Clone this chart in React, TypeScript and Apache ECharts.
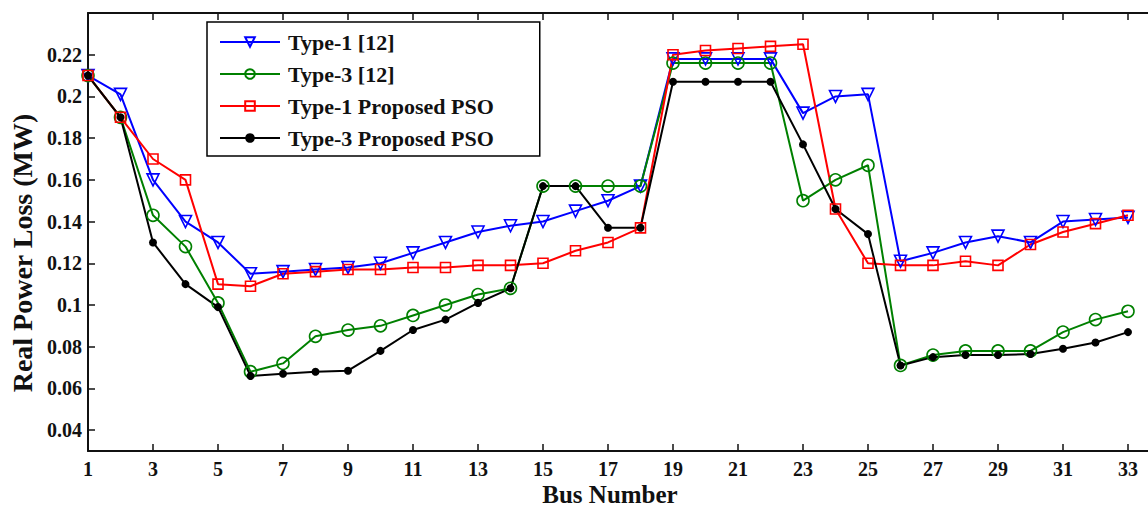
import React, { useEffect, useRef } from "react";
import * as echarts from "echarts";

const buses = [1,2,3,4,5,6,7,8,9,10,11,12,13,14,15,16,17,18,19,20,21,22,23,24,25,26,27,28,29,30,31,32,33];
const busTicks = [1,3,5,7,9,11,13,15,17,19,21,23,25,27,29,31,33];
const yTicks = [0.04,0.06,0.08,0.1,0.12,0.14,0.16,0.18,0.2,0.22];

const type1Ref = [0.21,0.201,0.16,0.14,0.13,0.115,0.116,0.117,0.118,0.12,0.125,0.13,0.135,0.138,0.14,0.145,0.15,0.157,0.218,0.218,0.218,0.218,0.192,0.2,0.201,0.121,0.125,0.13,0.133,0.13,0.14,0.141,0.142];
const type3Ref = [0.21,0.19,0.143,0.128,0.101,0.068,0.072,0.085,0.088,0.09,0.095,0.1,0.105,0.108,0.157,0.157,0.157,0.157,0.216,0.216,0.216,0.216,0.15,0.16,0.167,0.071,0.076,0.078,0.078,0.078,0.087,0.093,0.097];
const type1Pso = [0.21,0.19,0.17,0.16,0.11,0.109,0.115,0.116,0.117,0.117,0.118,0.118,0.119,0.119,0.12,0.126,0.13,0.137,0.22,0.222,0.223,0.224,0.225,0.146,0.12,0.119,0.119,0.121,0.119,0.129,0.135,0.139,0.143];
const type3Pso = [0.21,0.19,0.13,0.11,0.099,0.066,0.067,0.068,0.0685,0.078,0.088,0.093,0.101,0.108,0.157,0.157,0.137,0.137,0.207,0.207,0.207,0.207,0.177,0.146,0.134,0.071,0.075,0.076,0.076,0.0765,0.079,0.082,0.087];

const seriesNames = ["Type-1 [12]", "Type-3 [12]", "Type-1 Proposed PSO", "Type-3 Proposed PSO"];
const xTitle = "Bus Number";
const yTitle = "Real Power Loss (MW)";

const FONT = "'Liberation Serif', 'Times New Roman', serif";

export default function App() {
  const ref = useRef<HTMLDivElement>(null);
  useEffect(() => {
    document.body.style.margin = "0";
    const chart = echarts.init(ref.current!, null, { renderer: "svg" });
    const pairs = (vals: number[]) => buses.map((b, i) => [b, vals[i]]);
    const hollow = (c: string) => ({ color: "rgba(255,255,255,0)", borderColor: c, borderWidth: 1.6 });
    const titleStyle = { fontFamily: FONT, fontWeight: "bold", fill: "#111", align: "center", verticalAlign: "middle" };
    chart.setOption({
      animation: false,
      backgroundColor: "#ffffff",
      grid: { left: 88, right: 0, top: 13, bottom: 56, outerBoundsMode: "none", containLabel: false },
      legend: {
        orient: "vertical",
        left: 207,
        top: 22,
        padding: [9, 46, 7, 12],
        itemGap: 10,
        itemWidth: 60,
        itemHeight: 12,
        borderColor: "#000",
        borderWidth: 1.5,
        backgroundColor: "#fff",
        textStyle: { fontFamily: FONT, fontWeight: "bold", fontSize: 22, color: "#111", padding: [0, 0, 0, 3] },
        data: seriesNames,
      },
      graphic: [
        {
          type: "text",
          x: 22,
          y: 253,
          rotation: Math.PI / 2,
          style: { ...titleStyle, text: yTitle, fontSize: 28 },
        },
        {
          type: "text",
          x: 610,
          y: 494,
          style: { ...titleStyle, text: xTitle, fontSize: 25 },
        },
      ],
      xAxis: [
        {
          type: "value",
          min: 1,
          max: 1 + 1060 / 32.5,
          position: "bottom",
          axisLine: { lineStyle: { color: "#111", width: 2 } },
          axisTick: { inside: true, length: 7, customValues: busTicks, lineStyle: { color: "#111", width: 1.5 } },
          axisLabel: { customValues: busTicks, fontFamily: FONT, fontWeight: "bold", fontSize: 20, color: "#111", margin: 8 },
          splitLine: { show: false },
        },
        {
          type: "value",
          min: 1,
          max: 1 + 1060 / 32.5,
          position: "top",
          axisLine: { lineStyle: { color: "#111", width: 2 } },
          axisTick: { inside: true, length: 7, customValues: busTicks, lineStyle: { color: "#111", width: 1.5 } },
          axisLabel: { show: false },
          splitLine: { show: false },
        },
      ],
      yAxis: {
        type: "value",
        min: 0.03,
        max: 0.24,
        axisLine: { show: true, lineStyle: { color: "#111", width: 2 } },
        axisTick: { show: true, inside: true, length: 7, customValues: yTicks, lineStyle: { color: "#111", width: 1.5 } },
        axisLabel: { customValues: yTicks, fontFamily: FONT, fontWeight: "bold", fontSize: 20, color: "#111", margin: 6 },
        splitLine: { show: false },
      },
      series: [
        {
          name: seriesNames[0], type: "line", data: pairs(type1Ref), color: "#0000ff",
          symbol: "triangle", symbolRotate: 180, symbolSize: 12,
          lineStyle: { color: "#0000ff", width: 2 }, itemStyle: hollow("#0000ff"),
        },
        {
          name: seriesNames[1], type: "line", data: pairs(type3Ref), color: "#008000",
          symbol: "circle", symbolSize: 12,
          lineStyle: { color: "#008000", width: 2 }, itemStyle: hollow("#008000"),
        },
        {
          name: seriesNames[2], type: "line", data: pairs(type1Pso), color: "#ff0000",
          symbol: "rect", symbolSize: 10,
          lineStyle: { color: "#ff0000", width: 2 }, itemStyle: hollow("#ff0000"),
        },
        {
          name: seriesNames[3], type: "line", data: pairs(type3Pso), color: "#000000",
          symbol: "circle", symbolSize: 8,
          lineStyle: { color: "#000000", width: 2 }, itemStyle: { color: "#000000" },
        },
      ],
    });
    return () => chart.dispose();
  }, []);
  return <div ref={ref} style={{ position: "absolute", left: 0, top: 0, width: 1148, height: 507 }} />;
}
